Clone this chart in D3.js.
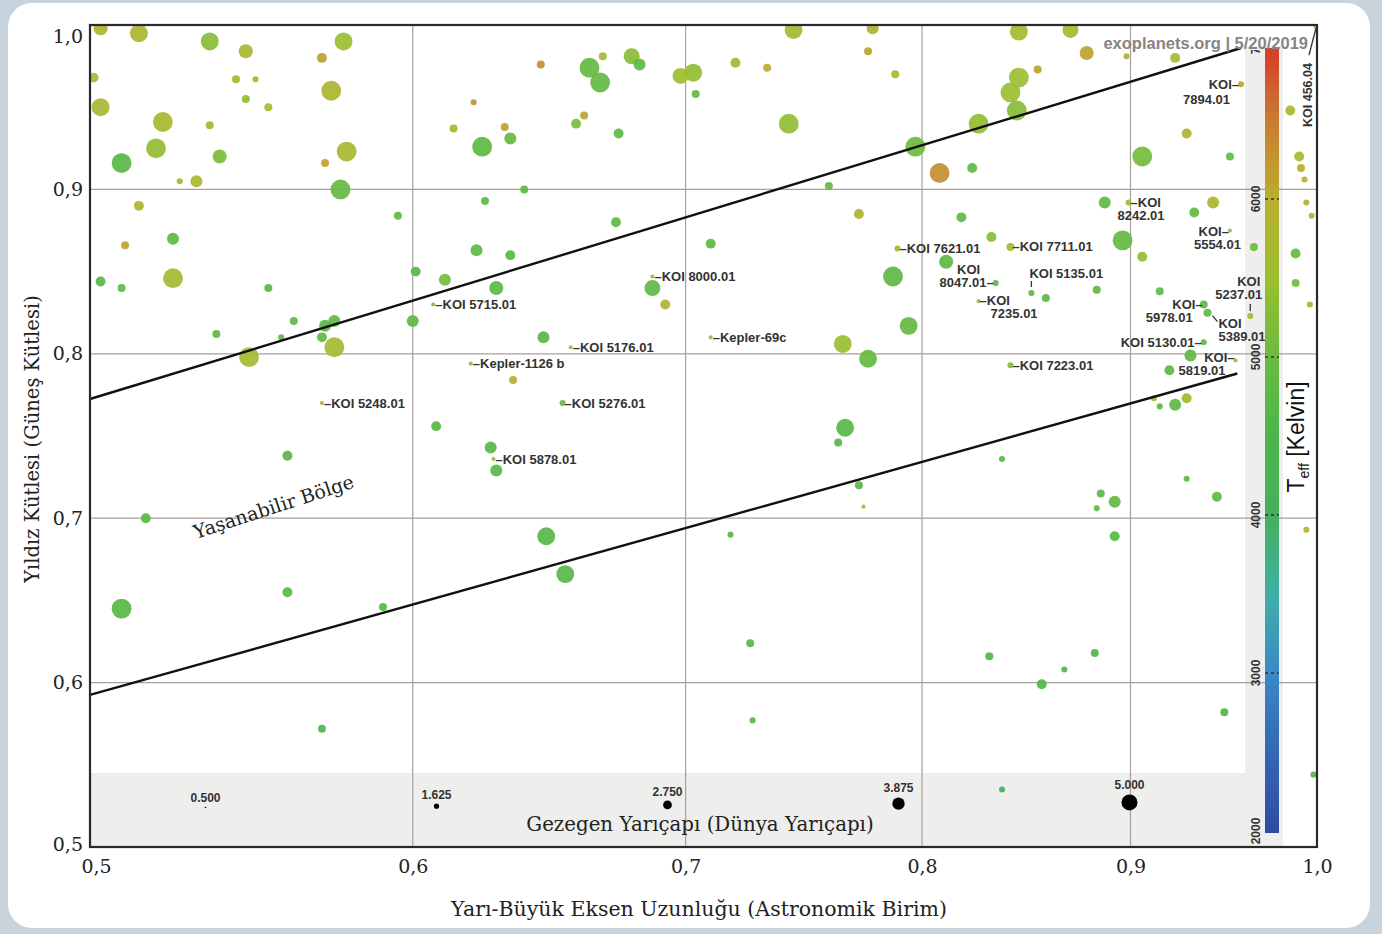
<!DOCTYPE html>
<html>
<head>
<meta charset="utf-8">
<script src="https://cdn.jsdelivr.net/npm/d3@7"></script>
<style>
  html, body { margin: 0; padding: 0; background: #c7d4de; }
  svg { display: block; }
</style>
</head>
<body>
<svg id="chart" width="1382" height="934"></svg>
<script>
// ---- Planet candidates: semi-major axis (AU), host mass (Msun), radius (Earth radii), host Teff (K)
const semiMajorAxis = [
  0.503, 0.514, 0.535, 0.546, 0.577, 0.570, 0.501, 0.543, 0.549, 0.546,
  0.553, 0.573, 0.503, 0.521, 0.535, 0.519, 0.538, 0.509, 0.578, 0.571,
  0.526, 0.531, 0.576, 0.514, 0.595, 0.524, 0.510, 0.524, 0.503, 0.509,
  0.553, 0.645, 0.668, 0.663, 0.667, 0.679, 0.682, 0.698, 0.703, 0.704,
  0.621, 0.614, 0.632, 0.634, 0.624, 0.661, 0.658, 0.674, 0.639, 0.625,
  0.673, 0.622, 0.634, 0.601, 0.611, 0.629, 0.687, 0.744, 0.778, 0.776,
  0.720, 0.733, 0.788, 0.742, 0.797, 0.826, 0.841, 0.844, 0.808, 0.823,
  0.759, 0.772, 0.818, 0.832, 0.710, 0.811, 0.787, 0.870, 0.878, 0.898,
  0.923, 0.854, 0.845, 0.845, 0.985, 0.929, 0.906, 0.952, 0.990, 0.991,
  0.993, 0.994, 0.997, 0.887, 0.943, 0.933, 0.896, 0.965, 0.906, 0.988,
  0.988, 0.883, 0.858, 0.915, 0.537, 0.561, 0.557, 0.571, 0.574, 0.570,
  0.574, 0.547, 0.559, 0.516, 0.600, 0.692, 0.646, 0.635, 0.608, 0.627,
  0.629, 0.647, 0.654, 0.765, 0.776, 0.794, 0.766, 0.763, 0.772, 0.774,
  0.837, 0.718, 0.931, 0.920, 0.915, 0.912, 0.923, 0.929, 0.996, 0.929,
  0.945, 0.885, 0.892, 0.883, 0.892, 0.994, 0.509, 0.559, 0.590, 0.570,
  0.726, 0.727, 0.831, 0.837, 0.882, 0.867, 0.856, 0.949, 0.998
];
const stellarMass = [
  0.998, 0.995, 0.990, 0.984, 0.990, 0.980, 0.968, 0.967, 0.967, 0.955,
  0.950, 0.960, 0.950, 0.941, 0.939, 0.925, 0.920, 0.916, 0.923, 0.916,
  0.905, 0.905, 0.900, 0.890, 0.884, 0.870, 0.866, 0.846, 0.844, 0.840,
  0.840, 0.976, 0.981, 0.974, 0.965, 0.981, 0.976, 0.969, 0.971, 0.958,
  0.953, 0.937, 0.938, 0.931, 0.926, 0.945, 0.940, 0.934, 0.900, 0.893,
  0.880, 0.863, 0.860, 0.850, 0.845, 0.840, 0.840, 0.997, 0.998, 0.984,
  0.977, 0.974, 0.970, 0.940, 0.926, 0.940, 0.959, 0.948, 0.910, 0.913,
  0.902, 0.885, 0.883, 0.871, 0.867, 0.856, 0.847, 0.997, 0.983, 0.981,
  0.980, 0.973, 0.968, 0.996, 0.948, 0.934, 0.920, 0.920, 0.920, 0.913,
  0.906, 0.892, 0.884, 0.892, 0.892, 0.886, 0.869, 0.865, 0.859, 0.861,
  0.843, 0.839, 0.834, 0.838, 0.812, 0.820, 0.810, 0.817, 0.820, 0.810,
  0.804, 0.798, 0.738, 0.700, 0.820, 0.830, 0.810, 0.784, 0.756, 0.743,
  0.729, 0.689, 0.666, 0.806, 0.797, 0.817, 0.755, 0.746, 0.720, 0.707,
  0.736, 0.690, 0.799, 0.790, 0.768, 0.773, 0.769, 0.773, 0.830, 0.724,
  0.713, 0.715, 0.710, 0.706, 0.689, 0.693, 0.645, 0.655, 0.646, 0.572,
  0.624, 0.577, 0.616, 0.535, 0.618, 0.608, 0.599, 0.582, 0.544
];
const planetRadius = [
  4.4, 5.6, 5.6, 4.4, 5.6, 3.1, 3.1, 2.5, 1.9, 2.5,
  2.5, 6.2, 5.6, 6.2, 2.5, 6.2, 4.4, 6.2, 6.2, 2.5,
  1.9, 3.75, 6.2, 3.1, 2.5, 3.75, 2.5, 6.2, 3.1, 2.5,
  2.5, 2.5, 2.5, 6.2, 6.2, 5.0, 3.75, 5.0, 5.6, 2.5,
  1.9, 2.5, 2.5, 3.75, 6.2, 2.5, 3.1, 3.1, 2.5, 2.5,
  3.1, 3.75, 3.1, 3.1, 3.75, 4.4, 5.0, 5.6, 3.75, 2.5,
  3.1, 2.5, 2.5, 6.2, 6.2, 6.2, 6.2, 6.2, 6.2, 3.1,
  2.5, 3.1, 3.1, 3.1, 3.1, 4.4, 6.2, 5.0, 4.4, 1.9,
  3.1, 2.5, 6.2, 5.6, 3.1, 3.1, 6.2, 2.5, 3.1, 2.5,
  1.9, 1.9, 1.9, 3.75, 3.75, 3.1, 6.2, 2.5, 3.1, 3.1,
  2.5, 2.5, 2.5, 2.5, 2.5, 2.5, 1.9, 3.75, 3.75, 3.1,
  6.2, 6.2, 3.1, 3.1, 3.75, 3.1, 3.75, 2.5, 3.1, 3.75,
  3.75, 5.6, 5.6, 5.6, 5.6, 5.6, 5.6, 2.5, 2.5, 1.3,
  1.9, 1.9, 3.75, 3.1, 1.9, 1.9, 3.75, 3.1, 1.9, 1.9,
  3.1, 2.5, 3.75, 1.9, 3.1, 1.9, 6.2, 3.1, 2.5, 2.5,
  2.5, 1.9, 2.5, 1.9, 2.5, 1.9, 3.1, 2.5, 1.9
];
const stellarTeff = [
  5800, 5800, 5300, 5700, 5500, 6100, 5700, 5800, 5800, 5400,
  5700, 5800, 5700, 5700, 5800, 5400, 5200, 4700, 5700, 6100,
  5800, 5700, 4900, 5800, 4800, 4800, 6100, 5600, 4700, 4800,
  4700, 6300, 5700, 4900, 4900, 5300, 4800, 5500, 5400, 4900,
  6300, 5700, 6100, 4900, 4800, 6100, 5200, 4800, 4800, 4800,
  4800, 4800, 4700, 4700, 5100, 4800, 4800, 5700, 5800, 6100,
  5800, 6000, 5800, 5400, 5000, 5400, 5500, 5300, 6300, 4800,
  4900, 5800, 4800, 5300, 4800, 4800, 4800, 5700, 6100, 5800,
  5700, 6100, 5500, 5600, 5800, 5800, 5100, 4900, 5500, 6000,
  6000, 5900, 5700, 4800, 5800, 4900, 4900, 5000, 5400, 4900,
  5100, 4800, 4800, 4800, 4800, 4800, 4800, 4700, 4800, 4800,
  5600, 5600, 4700, 4700, 4800, 5900, 4700, 6000, 4700, 4700,
  4700, 4700, 4700, 5500, 4900, 4900, 4700, 4700, 4700, 5600,
  4700, 4700, 4800, 4800, 4800, 5600, 4800, 5800, 5800, 4800,
  4800, 4800, 4800, 4800, 4700, 5900, 4700, 4700, 4700, 4600,
  4700, 4700, 4600, 4100, 4600, 4600, 4600, 4600, 4600
];

// ---- Named candidates
const namedPlanets = [
  "KOI 456.04", "KOI 7894.01", "KOI 8242.01", "KOI 7621.01", "KOI 7711.01",
  "KOI 5554.01", "KOI 8047.01", "KOI 5135.01", "KOI 8000.01", "KOI 5715.01",
  "KOI 7235.01", "KOI 5237.01", "KOI 5978.01", "KOI 5389.01", "Kepler-69c",
  "KOI 5176.01", "KOI 5130.01", "Kepler-1126 b", "KOI 5819.01", "KOI 7223.01",
  "KOI 5248.01", "KOI 5276.01", "KOI 5878.01"
];
const namedA = [
  1.000, 0.958, 0.899, 0.789, 0.841, 0.952, 0.834, 0.851, 0.687, 0.607,
  0.826, 0.963, 0.938, 0.940, 0.710, 0.656, 0.938, 0.620, 0.955, 0.841,
  0.570, 0.653, 0.628
];
const namedMass = [
  1.000, 0.964, 0.892, 0.864, 0.865, 0.875, 0.843, 0.837, 0.847, 0.830,
  0.832, 0.823, 0.830, 0.825, 0.810, 0.804, 0.807, 0.794, 0.796, 0.793,
  0.770, 0.770, 0.736
];
const namedRadius = [
  2.5, 1.9, 1.9, 1.9, 2.5, 1.3, 1.9, 1.9, 1.3, 1.3,
  1.3, 1.9, 2.5, 2.5, 1.3, 1.3, 1.9, 1.3, 1.3, 1.9,
  1.3, 1.9, 1.3
];
const namedTeff = [
  5500, 6100, 5800, 5800, 5700, 5800, 4700, 4800, 5800, 5200,
  5800, 5800, 4800, 4800, 5800, 5800, 4800, 5800, 5800, 5300,
  5800, 4900, 5800
];

// ---- Habitable-zone boundaries (two end points each, straight in log a)
const hzUpperA = [0.500, 0.958];
const hzUpperMass = [0.7725, 0.986];
const hzLowerA = [0.500, 0.956];
const hzLowerMass = [0.5925, 0.788];

// ---- Axis ticks, legend values, colour map
const axisTicks = [0.5, 0.6, 0.7, 0.8, 0.9, 1.0];
const gridTicks = [0.6, 0.7, 0.8, 0.9];
const legendRadii = [0.5, 1.625, 2.75, 3.875, 5.0];
const teffTicks = [2000, 3000, 4000, 5000, 6000, 7000];
const teffStops = [2000, 2500, 3000, 3500, 4000, 4500, 5000, 5500, 6000, 6500, 7000];
const teffColors = ["#2f4ca3", "#3467b5", "#3a89c6", "#3fb0a6", "#45b05c", "#4cb54a",
                    "#6abb3f", "#9cbe30", "#b9ae30", "#c87b30", "#d9362a"];

// ---- Layout
const P = { left: 90, right: 1317, top: 25, bottom: 847 };
const svg = d3.select("#chart");

const x = d3.scaleLog().domain([0.5, 1.0]).range([P.left, P.right]);
const y = d3.scaleLinear().domain([0.5, 1.0]).range([P.bottom, P.top]);
const rScale = d3.scaleLinear().domain([0, 5]).range([0, 8]);
const color = d3.scaleLinear().domain(teffStops).range(teffColors).interpolate(d3.interpolateRgb);
const cbY = d3.scaleLinear().domain([2000, 7000]).range([831, 41]);

const serif = "'DejaVu Serif', 'Liberation Serif', serif";
const sans = "'Liberation Sans', Arial, sans-serif";

// Card background
svg.append("rect").attr("x", 8).attr("y", 3).attr("width", 1362).attr("height", 925)
  .attr("rx", 24).attr("fill", "#ffffff");

const defs = svg.append("defs");
defs.append("clipPath").attr("id", "plotClip").append("rect")
  .attr("x", P.left).attr("y", P.top).attr("width", P.right - P.left).attr("height", P.bottom - P.top);
defs.append("clipPath").attr("id", "cbClip").append("rect")
  .attr("x", 1200).attr("y", 50).attr("width", 120).attr("height", 800);
const grad = defs.append("linearGradient").attr("id", "teffGrad")
  .attr("gradientUnits", "userSpaceOnUse")
  .attr("x1", 0).attr("x2", 0).attr("y1", cbY(2000)).attr("y2", cbY(7000));
teffStops.forEach((t, i) => {
  grad.append("stop").attr("offset", (t - 2000) / 5000).attr("stop-color", teffColors[i]);
});

// Shaded strips: radius legend along the bottom, colour bar on the right
const legendLeft = P.left, legendRight = 1245;
svg.append("rect").attr("x", legendLeft).attr("y", 773).attr("width", legendRight - legendLeft)
  .attr("height", P.bottom - 773).attr("fill", "#eeeeec");
svg.append("rect").attr("x", legendRight).attr("y", 46).attr("width", 38)
  .attr("height", P.bottom - 46).attr("fill", "#eeeeec");

// Grid
const grid = svg.append("g").attr("stroke", "#a89f9f").attr("stroke-width", 1.2);
grid.selectAll(".gx").data(gridTicks).join("line")
  .attr("x1", d => x(d)).attr("x2", d => x(d)).attr("y1", P.top).attr("y2", P.bottom);
grid.selectAll(".gy").data(gridTicks).join("line")
  .attr("x1", P.left).attr("x2", P.right).attr("y1", d => y(d)).attr("y2", d => y(d));

// Planets
const planets = semiMajorAxis.map((a, i) => ({ a, m: stellarMass[i], r: planetRadius[i], t: stellarTeff[i] }))
  .concat(namedPlanets.map((n, i) => ({ a: namedA[i], m: namedMass[i], r: namedRadius[i], t: namedTeff[i], name: n })));
planets.sort((p, q) => q.r - p.r);

svg.append("g").attr("clip-path", "url(#plotClip)")
  .selectAll("circle").data(planets).join("circle")
  .attr("cx", d => x(d.a)).attr("cy", d => y(d.m)).attr("r", d => rScale(d.r))
  .attr("fill", d => color(d.t)).attr("fill-opacity", 0.92);

// Habitable-zone boundaries
const line = d3.line().x(d => x(d[0])).y(d => y(d[1]));
[[hzUpperA, hzUpperMass], [hzLowerA, hzLowerMass]].forEach(([as, ms]) => {
  svg.append("path").datum(as.map((a, i) => [a, ms[i]]))
    .attr("d", line).attr("fill", "none").attr("stroke", "#111").attr("stroke-width", 2.4);
});

svg.append("text").attr("transform", "translate(196,539) rotate(-18)")
  .attr("font-family", serif).attr("font-size", 19).attr("fill", "#222")
  .text("Yaşanabilir Bölge");

// Labels of named candidates
const labelLayout = {
  "KOI 8000.01": { lines: [{ t: "–KOI 8000.01", dx: 2, dy: 4.5 }] },
  "KOI 5715.01": { lines: [{ t: "–KOI 5715.01", dx: 2, dy: 4.5 }] },
  "KOI 5176.01": { lines: [{ t: "–KOI 5176.01", dx: 2, dy: 4.5 }] },
  "Kepler-1126 b": { lines: [{ t: "–Kepler-1126 b", dx: 2, dy: 4.5 }] },
  "KOI 5248.01": { lines: [{ t: "–KOI 5248.01", dx: 2, dy: 4.5 }] },
  "KOI 5276.01": { lines: [{ t: "–KOI 5276.01", dx: 2, dy: 4.5 }] },
  "KOI 5878.01": { lines: [{ t: "–KOI 5878.01", dx: 2, dy: 4.5 }] },
  "Kepler-69c": { lines: [{ t: "–Kepler-69c", dx: 2, dy: 4.5 }] },
  "KOI 7621.01": { lines: [{ t: "–KOI 7621.01", dx: 2, dy: 4.5 }] },
  "KOI 7711.01": { lines: [{ t: "–KOI 7711.01", dx: 2, dy: 4.5 }] },
  "KOI 7223.01": { lines: [{ t: "–KOI 7223.01", dx: 2, dy: 4.5 }] },
  "KOI 8047.01": { lines: [{ t: "KOI", dx: -27, dy: -9.5, anchor: "middle" },
                           { t: "8047.01–", dx: -2, dy: 3.5, anchor: "end" }] },
  "KOI 7235.01": { lines: [{ t: "–KOI", dx: 1, dy: 4 }, { t: "7235.01", dx: 12, dy: 17 }] },
  "KOI 8242.01": { lines: [{ t: "–KOI", dx: 2, dy: 4.5 }, { t: "8242.01", dx: -11, dy: 17.5 }] },
  "KOI 7894.01": { lines: [{ t: "KOI–", dx: -2, dy: 5, anchor: "end" },
                           { t: "7894.01", dx: -11, dy: 20, anchor: "end" }] },
  "KOI 5554.01": { lines: [{ t: "KOI–", dx: -1, dy: 5.5, anchor: "end" },
                           { t: "5554.01", dx: 11, dy: 18.5, anchor: "end" }] },
  "KOI 5135.01": { lines: [{ t: "KOI 5135.01", dx: -2, dy: -14.5 }], tick: [0, -12, 0, -6] },
  "KOI 5237.01": { lines: [{ t: "KOI", dx: 10, dy: -29.5, anchor: "end" },
                           { t: "5237.01", dx: 12, dy: -16.5, anchor: "end" }], tick: [0, -12, 0, -5] },
  "KOI 5978.01": { lines: [{ t: "KOI–", dx: -1, dy: 4.5, anchor: "end" },
                           { t: "5978.01", dx: -11, dy: 17.5, anchor: "end" }] },
  "KOI 5389.01": { lines: [{ t: "KOI", dx: 11, dy: 15.5 }, { t: "5389.01", dx: 11, dy: 28.5 }],
                   tick: [5, 3, 10, 9] },
  "KOI 5130.01": { lines: [{ t: "KOI 5130.01–", dx: -2, dy: 4.5, anchor: "end" }] },
  "KOI 5819.01": { lines: [{ t: "KOI–", dx: -1, dy: 2, anchor: "end" },
                           { t: "5819.01", dx: -10, dy: 15, anchor: "end" }] }
};

const labels = svg.append("g").attr("font-family", sans).attr("font-size", 13)
  .attr("font-weight", "bold").attr("fill", "#333");
namedPlanets.forEach((name, i) => {
  const px = x(namedA[i]), py = y(namedMass[i]);
  const spec = labelLayout[name];
  if (!spec) return;
  spec.lines.forEach(l => {
    labels.append("text").attr("x", px + l.dx).attr("y", py + l.dy)
      .attr("text-anchor", l.anchor || "start").text(l.t);
  });
  if (spec.tick) {
    labels.append("line").attr("x1", px + spec.tick[0]).attr("y1", py + spec.tick[1])
      .attr("x2", px + spec.tick[2]).attr("y2", py + spec.tick[3])
      .attr("stroke", "#333").attr("stroke-width", 1.3);
  }
});
// The outermost candidate sits in the corner; its name runs up the right edge
{
  const i = namedPlanets.indexOf("KOI 456.04");
  const px = x(namedA[i]), py = y(namedMass[i]);
  labels.append("text").attr("transform", `translate(${px - 5},${py + 102}) rotate(-90)`)
    .attr("font-size", 12.5).text(namedPlanets[i]);
  labels.append("line").attr("x1", px - 8).attr("y1", py + 30).attr("x2", px - 1).attr("y2", py + 3)
    .attr("stroke", "#333").attr("stroke-width", 1.3);
}

// Colour bar
const cb = svg.append("g");
cb.append("rect").attr("x", 1265).attr("y", 48).attr("width", 14).attr("height", cbY(2000) + 2 - 48)
  .attr("fill", "url(#teffGrad)");
cb.selectAll(".cbt").data(teffTicks.slice(1, -1)).join("line")
  .attr("x1", 1265).attr("x2", 1279).attr("y1", d => cbY(d)).attr("y2", d => cbY(d))
  .attr("stroke", "#333").attr("stroke-width", 1.4).attr("stroke-dasharray", "3,3");
cb.append("g").attr("clip-path", "url(#cbClip)")
  .selectAll("text").data(teffTicks).join("text")
  .attr("transform", d => `translate(1260,${cbY(d)}) rotate(-90)`)
  .attr("text-anchor", "middle").attr("font-family", sans).attr("font-size", 12)
  .attr("font-weight", "bold").attr("fill", "#333").text(d => d);
const teffLabel = cb.append("text").attr("transform", "translate(1304,437) rotate(-90)")
  .attr("text-anchor", "middle").attr("font-family", sans).attr("font-size", 23).attr("fill", "#111");
teffLabel.append("tspan").text("T");
teffLabel.append("tspan").attr("font-size", 14).attr("dy", 5).text("eff");
teffLabel.append("tspan").attr("dy", -5).text(" [Kelvin]");

// Planet radius legend
const legendX = d3.scaleBand().domain(legendRadii).range([legendLeft, legendRight]);
const leg = svg.append("g");
legendRadii.forEach(v => {
  const cx = legendX(v) + legendX.bandwidth() / 2;
  const rr = rScale(v);
  const cy = 808 - 0.7 * rr;
  leg.append("circle").attr("cx", cx).attr("cy", cy).attr("r", rr).attr("fill", "#000");
  leg.append("text").attr("x", cx).attr("y", cy - rr - 5).attr("text-anchor", "middle")
    .attr("font-family", sans).attr("font-size", 12).attr("font-weight", "bold").attr("fill", "#333")
    .text(v.toFixed(3));
});
leg.append("text").attr("x", 700).attr("y", 831).attr("text-anchor", "middle")
  .attr("font-family", serif).attr("font-size", 19.8).attr("fill", "#222")
  .text("Gezegen Yarıçapı (Dünya Yarıçapı)");

// Source note
svg.append("text").attr("x", 1308).attr("y", 49).attr("text-anchor", "end")
  .attr("font-family", sans).attr("font-size", 16.5).attr("font-weight", "bold").attr("fill", "#858585")
  .text("exoplanets.org | 5/20/2019");

// Plot frame
svg.append("rect").attr("x", P.left).attr("y", P.top).attr("width", P.right - P.left)
  .attr("height", P.bottom - P.top).attr("fill", "none").attr("stroke", "#2a2a2a").attr("stroke-width", 2.2);

// Axes
const fmt = d => d.toFixed(1).replace(".", ",");
const xAxis = svg.append("g").attr("transform", `translate(0,${P.bottom})`)
  .call(d3.axisBottom(x).tickValues(axisTicks).tickFormat(fmt).tickSize(0).tickPadding(13));
const yAxis = svg.append("g").attr("transform", `translate(${P.left},0)`)
  .call(d3.axisLeft(y).tickValues(axisTicks).tickFormat(fmt).tickSize(0).tickPadding(7));
[xAxis, yAxis].forEach(g => {
  g.select(".domain").remove();
  g.selectAll("text").attr("font-family", serif).attr("font-size", 19).attr("fill", "#222");
});
xAxis.selectAll("text").filter(d => d === 0.5).attr("dx", 6);
yAxis.selectAll("text").filter(d => d === 1.0).attr("dy", "0.9em");
yAxis.selectAll("text").filter(d => d === 0.5).attr("dy", "0.2em");

svg.append("text").attr("x", 699).attr("y", 916).attr("text-anchor", "middle")
  .attr("font-family", serif).attr("font-size", 20.5).attr("fill", "#222")
  .text("Yarı-Büyük Eksen Uzunluğu (Astronomik Birim)");
svg.append("text").attr("transform", "translate(39,439) rotate(-90)").attr("text-anchor", "middle")
  .attr("font-family", serif).attr("font-size", 19.5).attr("fill", "#222")
  .text("Yıldız Kütlesi (Güneş Kütlesi)");
</script>
</body>
</html>
